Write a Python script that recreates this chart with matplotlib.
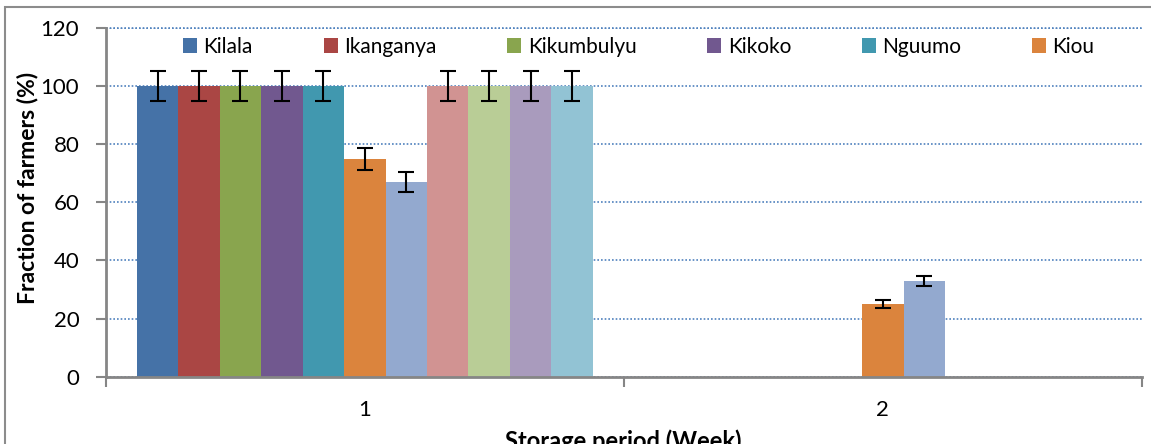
import matplotlib

matplotlib.use("Agg")
import matplotlib.pyplot as plt
import numpy as np
from matplotlib.patches import Patch, Rectangle

# ---- data --------------------------------------------------------------
WEEKS = ["1", "2"]
LEGEND_NAMES = ["Kilala", "Ikanganya", "Kikumbulyu", "Kikoko", "Nguumo", "Kiou"]
# 11 series per week (only the first six are named in the legend)
WEEK1 = [100, 100, 100, 100, 100, 75, 67, 100, 100, 100, 100]
WEEK2 = [0, 0, 0, 0, 0, 25, 33, 0, 0, 0, 0]
ERR1 = [5, 5, 5, 5, 5, 3.8, 3.4, 5, 5, 5, 5]
ERR2 = [0, 0, 0, 0, 0, 1.4, 1.8, 0, 0, 0, 0]
Y_TICKS = [0, 20, 40, 60, 80, 100, 120]

COLORS = ["#4572A7", "#AA4644", "#89A54E", "#71588F", "#4198AF", "#DB843D",
          "#93A9CF", "#D19392", "#B9CD96", "#A99BBD", "#92C3D4"]
AXIS_GREY = "#868686"
GRID_BLUE = "#4F81BD"

plt.rcParams["font.family"] = ["Lato", "DejaVu Sans"]
FS = 15
TICK_FS = 16

W, H = 1151, 444
fig = plt.figure(figsize=(W / 100, H / 100), dpi=100)
ax = fig.add_axes([105.7 / W, 1 - 376.7 / H, (1142 - 105.7) / W, (376.7 - 27.9) / H])

n = len(WEEK1)
bw = 1 / 12.5  # Excel gap width 150 %
centers = np.arange(len(WEEKS)) + 0.5
for i in range(n):
    x = centers + (i - (n - 1) / 2) * bw
    vals = np.array([WEEK1[i], WEEK2[i]], dtype=float)
    errs = np.array([ERR1[i], ERR2[i]], dtype=float)
    ax.bar(x, vals, width=bw, color=COLORS[i], edgecolor="none", zorder=2)
    keep = vals > 0
    ax.errorbar(x[keep], vals[keep], yerr=errs[keep], fmt="none", ecolor="black",
                elinewidth=1.5, capsize=6, capthick=1.5, zorder=3)

ax.set_xlim(0, len(WEEKS))
ax.set_ylim(0, 120)
ax.set_yticks(Y_TICKS)
ax.set_xticks(np.arange(len(WEEKS) + 1))
ax.set_xticklabels([])
ax.set_xticks(centers, minor=True)
ax.set_xticklabels(WEEKS, minor=True)
ax.tick_params(axis="x", which="minor", length=0, pad=17, labelsize=TICK_FS)
ax.tick_params(axis="x", which="major", length=7, width=1.5, color=AXIS_GREY, direction="out")
ax.tick_params(axis="y", length=7, width=1.5, color=AXIS_GREY, pad=12, labelsize=TICK_FS)

for s in ("top", "right"):
    ax.spines[s].set_visible(False)
for s in ("left", "bottom"):
    ax.spines[s].set_color(AXIS_GREY)
    ax.spines[s].set_linewidth(2)

ax.yaxis.grid(True, linestyle=(0, (1, 1.2)), color=GRID_BLUE, linewidth=1.2, zorder=0)
ax.set_axisbelow(True)
# the 120 line sits on top of the plot area
ax.axhline(120, linestyle=(0, (1, 1.2)), color=GRID_BLUE, linewidth=1.2, clip_on=False, zorder=0)

handles = [Patch(facecolor=COLORS[i], edgecolor="none") for i in range(len(LEGEND_NAMES))]
leg = ax.legend(handles, LEGEND_NAMES, ncol=6, frameon=False, fontsize=FS,
                loc="center left", bbox_to_anchor=(183 / W, 1 - 46.7 / H),
                bbox_transform=fig.transFigure, borderpad=0, borderaxespad=0,
                handlelength=0.68, handleheight=0.68, handletextpad=0.3,
                columnspacing=3.4)

fig.text(28 / W, 1 - 188 / H, "Fraction of farmers (%)", rotation=90, ha="center",
         va="center", fontsize=16.5, fontweight="bold")
fig.text(623 / W, 1 - 449 / H, "Storage period (Week)", ha="center", va="baseline",
         fontsize=17, fontweight="bold")

# chart-area border
fig.patches.append(Rectangle((4.5 / W, -0.1), 1.2, 1.1 - 7.5 / H, transform=fig.transFigure,
                             fill=False, edgecolor="#8C8C8C", linewidth=1.5))

fig.savefig("out.png", dpi=100)
